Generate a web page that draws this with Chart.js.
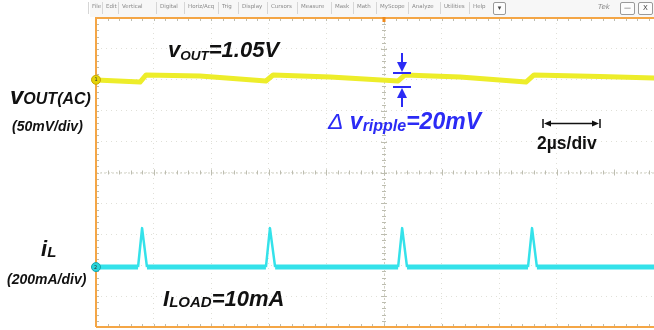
<!DOCTYPE html>
<html>
<head>
<meta charset="utf-8">
<title>Output ripple and inductor current</title>
<script src="https://cdn.jsdelivr.net/npm/chart.js@4.4.1/dist/chart.umd.min.js"></script>
<style>
  body { margin: 0; background: #fff; }
  #wrap { position: relative; width: 654px; height: 330px; overflow: hidden; background: #fff; }
  #scope { position: absolute; left: 0; top: 0; }
  .lbl { position: absolute; font-family: "Liberation Sans", Arial, sans-serif; font-weight: bold; font-style: italic; color: #111; line-height: 1; white-space: nowrap; }
  .sub { position: relative; }
  .menu { position: absolute; top: 0; left: 90px; width: 564px; height: 17px; background: #f7f7f7; }
  .mi { position: absolute; top: 4px; font-family: "DejaVu Sans", sans-serif; font-size: 5.5px; color: #8a8a8a; line-height: 1; }
  .sep { position: absolute; top: 2px; width: 1px; height: 12px; background: #d6d6d6; }
  .btn { position: absolute; top: 2px; height: 11px; border: 1px solid #9a9a9a; border-radius: 2px; background: #fdfdfd; font-family: "DejaVu Sans", sans-serif; font-size: 7px; color: #444; text-align: center; line-height: 11px; }
  .chn { position: absolute; font-family: "DejaVu Sans", sans-serif; font-size: 5px; color: #333; line-height: 1; }
</style>
</head>
<body>
<div id="wrap">
  <canvas id="scope" width="654" height="330"></canvas>
  <div class="menu" id="menu"></div>

  <div class="lbl" style="left:168px; top:39px; font-size:22px;">v<span class="sub" style="font-size:13.5px; top:3px;">OUT</span>=1.05V</div>
  <div class="lbl" style="left:10px; top:84px; font-size:24px;">v<span class="sub" style="font-size:16px;">OUT(AC)</span></div>
  <div class="lbl" style="left:12px; top:119px; font-size:14px;">(50mV/div)</div>
  <div class="lbl" style="left:41px; top:238px; font-size:22px;">i<span class="sub" style="font-size:15px; top:1px;">L</span></div>
  <div class="lbl" style="left:7px; top:272px; font-size:14px;">(200mA/div)</div>
  <div class="lbl" style="left:163px; top:288px; font-size:22px;">I<span class="sub" style="font-size:15px; top:1px;">LOAD</span>=10mA</div>
  <div class="lbl" style="left:328px; top:110px; font-size:23px; color:#2b2bf5;"><span style="font-weight:normal;">&Delta;</span> v<span class="sub" style="font-size:16px; top:2px;">ripple</span>=20mV</div>
  <div class="lbl" style="left:537px; top:135px; font-size:17.5px; font-style:normal;">2µs/div</div>

  <div class="chn" style="left:94.5px; top:76.5px;">1</div>
  <div class="chn" style="left:94px; top:264.5px;">2</div>
</div>

<script>
// Channel 1: output voltage ripple (AC coupled), mV vs time in µs
const vOutTime = [0, 1.53, 1.74, 3.61, 5.90, 6.15, 8.13, 10.49, 10.73, 12.64, 14.93, 15.21, 17.5, 19.38];
const vOutMv   = [-0.3, -3.6, 7.8, 6.1, -1.9, 7.8, 4.5, -1.9, 7.8, 4.5, -3.6, 7.8, 5.3, 2.9];

// Channel 2: inductor current, mA vs time in µs
const iLTime = [0, 1.46, 1.60, 1.77, 5.90, 6.04, 6.22, 10.49, 10.63, 10.80, 15.00, 15.14, 15.31, 19.38];
const iLMa   = [0, 0, 252, 0, 0, 252, 0, 0, 252, 0, 0, 252, 0, 0];

// Scope settings
const timePerDiv = 2;      // µs/div
const ch1PerDiv = 50;      // mV/div
const ch2PerDiv = 200;     // mA/div
const ch1Offset = 3;       // divisions above centre
const ch2Offset = -3.06;   // divisions below centre
const visibleTime = 19.375;

// Menu bar items and their left edges
const menuItems = ['File', 'Edit', 'Vertical', 'Digital', 'Horiz/Acq', 'Trig', 'Display', 'Cursors',
  'Measure', 'Mask', 'Math', 'MyScope', 'Analyze', 'Utilities', 'Help'];
const menuLeft = [92, 106, 122, 160, 188, 222, 242, 271, 301, 335, 357, 380, 412, 444, 473];

const menu = document.getElementById('menu');
menuItems.forEach((name, i) => {
  const el = document.createElement('div');
  el.className = 'mi';
  el.style.left = (menuLeft[i] - 90) + 'px';
  el.textContent = name;
  menu.appendChild(el);
  const sep = document.createElement('div');
  sep.className = 'sep';
  sep.style.left = (menuLeft[i] - 90 - 4) + 'px';
  menu.appendChild(sep);
});
[['&#9662;', 493, 11], ['&#8212;', 620, 13], ['X', 638, 13]].forEach(([txt, x, w]) => {
  const b = document.createElement('div');
  b.className = 'btn';
  b.style.left = (x - 90) + 'px';
  b.style.width = w + 'px';
  b.innerHTML = txt;
  menu.appendChild(b);
});
const tek = document.createElement('div');
tek.className = 'mi';
tek.style.left = (598 - 90) + 'px';
tek.style.fontSize = '7px';
tek.style.fontStyle = 'italic';
tek.style.top = '4px';
tek.textContent = 'Tek';
menu.appendChild(tek);

function arrowHead(ctx, x, y, dir, w, h) {
  // dir: 1 points down, -1 points up, 2 right, -2 left
  ctx.beginPath();
  if (Math.abs(dir) === 1) {
    ctx.moveTo(x, y);
    ctx.lineTo(x - w / 2, y - dir * h);
    ctx.lineTo(x + w / 2, y - dir * h);
  } else {
    const d = dir / 2;
    ctx.moveTo(x, y);
    ctx.lineTo(x - d * h, y - w / 2);
    ctx.lineTo(x - d * h, y + w / 2);
  }
  ctx.closePath();
  ctx.fill();
}

// Graticule, frame, channel markers and annotation arrows
const scopeDecor = {
  id: 'scopeDecor',
  beforeDatasetsDraw(chart) {
    const { ctx, chartArea: a, scales } = chart;
    const cx = scales.x.getPixelForValue(5 * timePerDiv);
    const cy = (a.top + a.bottom) / 2;
    const divX = scales.x.getPixelForValue(timePerDiv) - scales.x.getPixelForValue(0);
    const divY = (a.bottom - a.top) / 10;
    ctx.save();
    ctx.strokeStyle = '#cfcfc2';
    ctx.lineWidth = 1;
    ctx.setLineDash([2, 2]);
    ctx.beginPath();
    ctx.moveTo(a.left, cy + 0.5); ctx.lineTo(a.right, cy + 0.5);
    ctx.moveTo(cx + 0.5, a.top); ctx.lineTo(cx + 0.5, a.bottom);
    ctx.stroke();
    ctx.setLineDash([]);
    ctx.strokeStyle = '#bdbdb0';
    ctx.beginPath();
    for (let k = 0; k * divX / 5 <= a.right - a.left; k++) {
      const x = Math.round(a.left + k * divX / 5) + 0.5;
      const len = k % 5 === 0 ? 3 : 2;
      ctx.moveTo(x, cy - len); ctx.lineTo(x, cy + len);
      ctx.moveTo(x, a.top); ctx.lineTo(x, a.top + 3);
      ctx.moveTo(x, a.bottom); ctx.lineTo(x, a.bottom - 3);
    }
    for (let k = 0; k <= 50; k++) {
      const y = Math.round(a.top + k * divY / 5) + 0.5;
      const len = k % 5 === 0 ? 3 : 2;
      ctx.moveTo(cx - len, y); ctx.lineTo(cx + len, y);
      ctx.moveTo(a.left, y); ctx.lineTo(a.left + 3, y);
    }
    ctx.stroke();
    ctx.restore();
  },
  afterDatasetsDraw(chart) {
    const { ctx, chartArea: a, scales } = chart;
    ctx.save();
    // orange frame
    ctx.strokeStyle = '#f4a646';
    ctx.lineWidth = 2;
    ctx.beginPath();
    ctx.moveTo(a.left, a.bottom); ctx.lineTo(a.left, a.top); ctx.lineTo(654, a.top);
    ctx.moveTo(a.left, a.bottom); ctx.lineTo(654, a.bottom);
    ctx.stroke();
    // trigger position marker
    const tx = scales.x.getPixelForValue(5 * timePerDiv);
    ctx.fillStyle = '#f08a1c';
    ctx.fillRect(tx - 1.5, a.top - 2, 3, 6);
    // channel ground markers
    const m1 = scales.y.getPixelForValue(0);
    const m2 = scales.y2.getPixelForValue(0);
    ctx.lineWidth = 1;
    ctx.fillStyle = '#e4d40a'; ctx.strokeStyle = '#c9a800';
    ctx.beginPath(); ctx.arc(a.left, m1, 4.5, 0, Math.PI * 2); ctx.fill(); ctx.stroke();
    ctx.fillStyle = '#28d6dc'; ctx.strokeStyle = '#1aa4aa';
    ctx.beginPath(); ctx.arc(a.left, m2, 4.5, 0, Math.PI * 2); ctx.fill(); ctx.stroke();
    // ripple arrows
    ctx.strokeStyle = '#2b2bf5'; ctx.fillStyle = '#2b2bf5';
    ctx.lineWidth = 2;
    ctx.beginPath();
    ctx.moveTo(402, 53); ctx.lineTo(402, 64);
    ctx.moveTo(393, 73); ctx.lineTo(411, 73);
    ctx.moveTo(393, 87); ctx.lineTo(411, 87);
    ctx.moveTo(402, 96); ctx.lineTo(402, 107);
    ctx.stroke();
    arrowHead(ctx, 402, 72, 1, 10, 10);
    arrowHead(ctx, 402, 88, -1, 10, 10);
    // time per division arrow
    ctx.strokeStyle = '#111'; ctx.fillStyle = '#111';
    ctx.lineWidth = 1.5;
    ctx.beginPath();
    ctx.moveTo(549, 123.5); ctx.lineTo(593, 123.5);
    ctx.moveTo(543, 119); ctx.lineTo(543, 128);
    ctx.moveTo(600, 119); ctx.lineTo(600, 128);
    ctx.stroke();
    arrowHead(ctx, 544, 123.5, -2, 6, 7);
    arrowHead(ctx, 599, 123.5, 2, 6, 7);
    ctx.restore();
  }
};

new Chart(document.getElementById('scope'), {
  type: 'line',
  data: {
    datasets: [
      {
        label: 'vOUT(AC)',
        data: vOutTime.map((t, i) => ({ x: t, y: vOutMv[i] })),
        yAxisID: 'y',
        borderColor: '#eded2a',
        borderWidth: 5,
        pointRadius: 0,
        tension: 0,
        borderJoinStyle: 'round'
      },
      {
        label: 'iL',
        data: iLTime.map((t, i) => ({ x: t, y: iLMa[i] })),
        yAxisID: 'y2',
        borderColor: '#34e2ea',
        borderWidth: 5,
        pointRadius: 0,
        tension: 0,
        borderJoinStyle: 'round',
        segment: {
          borderWidth: c => Math.abs(c.p1.parsed.y - c.p0.parsed.y) > 100 ? 2.5 : 5
        }
      }
    ]
  },
  options: {
    responsive: false,
    animation: false,
    devicePixelRatio: 1,
    layout: { padding: { left: 96, top: 18, right: 0, bottom: 3 } },
    plugins: { legend: { display: false }, tooltip: { enabled: false } },
    scales: {
      x: {
        type: 'linear',
        min: 0,
        max: visibleTime,
        ticks: { display: false, stepSize: timePerDiv },
        grid: { color: '#e0e0d8', drawTicks: false, lineWidth: 1 },
        border: { display: false, dash: [1, 4] }
      },
      y: {
        min: (-5 - ch1Offset) * ch1PerDiv,
        max: (5 - ch1Offset) * ch1PerDiv,
        ticks: { display: false, stepSize: ch1PerDiv },
        grid: { color: '#e0e0d8', drawTicks: false, lineWidth: 1 },
        border: { display: false, dash: [1, 4] }
      },
      y2: {
        display: false,
        min: (-5 - ch2Offset) * ch2PerDiv,
        max: (5 - ch2Offset) * ch2PerDiv
      }
    }
  },
  plugins: [scopeDecor]
});
</script>
</body>
</html>
